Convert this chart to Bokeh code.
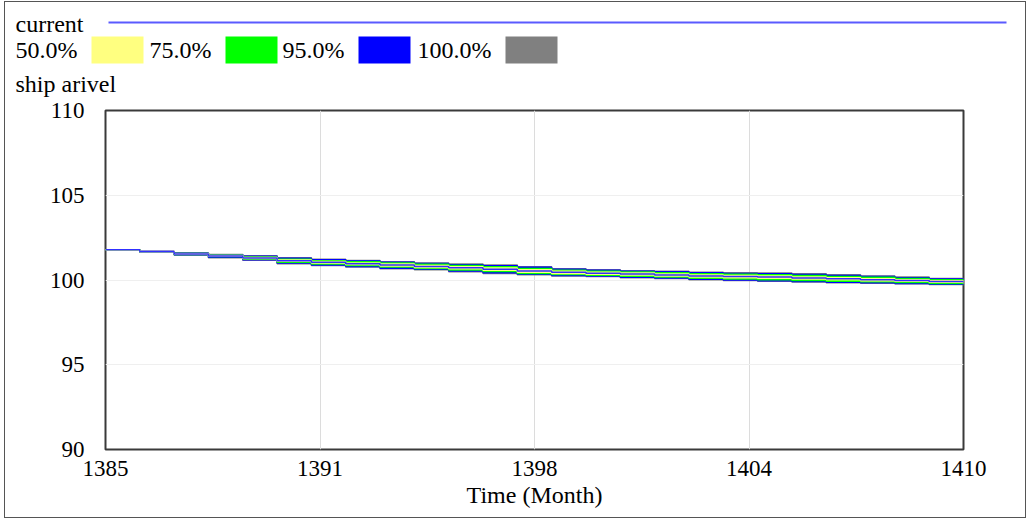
from bokeh.plotting import figure
from bokeh.models import Range1d, FixedTicker, ColumnDataSource
from bokeh.layouts import column
from bokeh.core.properties import value
from bokeh.embed import file_html
from bokeh.resources import INLINE

# ---------------- data ----------------
time = [1385, 1386, 1387, 1388, 1389, 1390, 1391, 1392, 1393, 1394, 1395, 1396, 1397,
        1398, 1399, 1400, 1401, 1402, 1403, 1404, 1405, 1406, 1407, 1408, 1409, 1410]

current = [101.78, 101.66, 101.54, 101.42, 101.30, 101.14, 101.04, 100.96, 100.88, 100.80,
           100.72, 100.64, 100.53, 100.45, 100.40, 100.35, 100.30, 100.24, 100.20, 100.17,
           100.12, 100.07, 100.02, 99.97, 99.91, 99.85]

upper100 = [101.78, 101.69, 101.59, 101.51, 101.43, 101.31, 101.22, 101.15, 101.08, 101.01,
            100.94, 100.88, 100.78, 100.67, 100.61, 100.55, 100.51, 100.46, 100.43, 100.41,
            100.37, 100.31, 100.24, 100.17, 100.09, 100.01]
lower100 = [101.78, 101.63, 101.48, 101.32, 101.16, 100.96, 100.85, 100.76, 100.67, 100.60,
            100.49, 100.39, 100.31, 100.24, 100.20, 100.13, 100.09, 100.02, 99.97, 99.92,
            99.88, 99.84, 99.81, 99.78, 99.73, 99.68]
upper95 = [101.78, 101.68, 101.58, 101.49, 101.40, 101.28, 101.19, 101.12, 101.05, 100.98,
           100.90, 100.84, 100.75, 100.64, 100.58, 100.52, 100.48, 100.43, 100.39, 100.37,
           100.33, 100.27, 100.21, 100.14, 100.06, 99.99]
lower95 = [101.78, 101.64, 101.49, 101.34, 101.19, 101.00, 100.88, 100.79, 100.70, 100.63,
           100.53, 100.43, 100.34, 100.27, 100.23, 100.16, 100.12, 100.05, 100.00, 99.95,
           99.91, 99.87, 99.84, 99.80, 99.75, 99.71]
upper75 = [101.78, 101.67, 101.56, 101.46, 101.36, 101.23, 101.14, 101.07, 101.00, 100.93,
           100.85, 100.78, 100.68, 100.58, 100.52, 100.47, 100.43, 100.37, 100.34, 100.31,
           100.27, 100.21, 100.16, 100.09, 100.02, 99.95]
lower75 = [101.78, 101.65, 101.51, 101.38, 101.24, 101.05, 100.94, 100.85, 100.76, 100.68,
           100.59, 100.50, 100.39, 100.32, 100.28, 100.22, 100.17, 100.10, 100.06, 100.02,
           99.97, 99.93, 99.89, 99.85, 99.80, 99.75]
upper50 = [101.78, 101.66, 101.55, 101.44, 101.33, 101.18, 101.09, 101.01, 100.94, 100.86,
           100.78, 100.71, 100.60, 100.51, 100.46, 100.41, 100.36, 100.30, 100.26, 100.23,
           100.18, 100.13, 100.08, 100.02, 99.96, 99.90]
lower50 = [101.78, 101.66, 101.53, 101.40, 101.27, 101.10, 101.00, 100.91, 100.82, 100.74,
           100.66, 100.58, 100.46, 100.39, 100.34, 100.29, 100.24, 100.18, 100.14, 100.11,
           100.06, 100.01, 99.96, 99.92, 99.86, 99.80]

band_labels = ["50.0%", "75.0%", "95.0%", "100.0%"]
band_colors = ["#ffff80", "#00ff00", "#0000ff", "#808080"]

x_ticks = [1385, 1391.25, 1397.5, 1403.75, 1410]
x_tick_labels = ["1385", "1391", "1398", "1404", "1410"]
y_ticks = [90, 95, 100, 105, 110]

variable_name = "ship arivel"
run_name = "current"
x_title = "Time (Month)"

FONT = "Liberation Serif"

# ---------------- header (legend) ----------------
W = 1020
HH = 95
header = figure(width=W, height=HH, x_range=Range1d(5, 5 + W), y_range=Range1d(2 + HH, 2),
                x_axis_type=None, y_axis_type=None, toolbar_location=None,
                output_backend="svg", min_border=0, outline_line_color=None)
header.grid.visible = False
header.frame_align = False

TXT = dict(text_font=value(FONT), text_font_size="24px", text_baseline="alphabetic",
           text_color="black")
header.text(x=[15], y=[23], text=[run_name], **TXT)
header.segment(x0=[108], y0=[22], x1=[1006], y1=[22], line_color="#5a5aff", line_width=2)

text_x = [15, 149, 282, 417]
sw_left = [91, 225, 358, 505]
header.text(x=text_x, y=[49] * 4, text=band_labels, **TXT)
header.quad(left=sw_left, right=[l + 52 for l in sw_left], top=[36] * 4, bottom=[63] * 4,
            fill_color=band_colors, line_color=None)
header.text(x=[15], y=[83], text=[variable_name], **TXT)

# ---------------- main plot ----------------
p = figure(width=W, height=420, x_range=Range1d(1385, 1410), y_range=Range1d(90, 110),
           toolbar_location=None, output_backend="svg",
           min_border_left=100, min_border_right=62, min_border_top=13, min_border_bottom=68)
p.frame_align = False
p.outline_line_color = "#3a3a3a"
p.outline_line_width = 2

src = ColumnDataSource(dict(t=time, cur=current, u100=upper100, l100=lower100,
                            u95=upper95, l95=lower95, u75=upper75, l75=lower75,
                            u50=upper50, l50=lower50))

bands = [("u100", "l100", band_colors[3]), ("u95", "l95", band_colors[2]),
         ("u75", "l75", band_colors[1]), ("u50", "l50", band_colors[0])]
for u, l, c in bands:
    p.varea_step(x="t", y1=l, y2=u, source=src, fill_color=c, step_mode="after")
for u, l, c in bands:
    p.step(x="t", y=u, source=src, line_color=c, line_width=1.5, mode="after")
    p.step(x="t", y=l, source=src, line_color=c, line_width=1.5, mode="after")
p.step(x="t", y="cur", source=src, line_color="#3030ff", line_width=1.5, mode="after")

p.xaxis.ticker = FixedTicker(ticks=x_ticks)
p.xaxis.major_label_overrides = {t: s for t, s in zip(x_ticks, x_tick_labels)}
p.yaxis.ticker = FixedTicker(ticks=y_ticks)
p.xaxis.axis_label = x_title

for ax in (p.xaxis[0], p.yaxis[0]):
    ax.axis_line_color = None
    ax.major_tick_line_color = None
    ax.minor_tick_line_color = None
    ax.major_tick_out = 0
    ax.major_tick_in = 0
    ax.minor_tick_out = 0
    ax.major_label_text_font = FONT
    ax.major_label_text_font_size = "23px"
    ax.major_label_text_color = "black"
p.xaxis.major_label_standoff = 11
p.yaxis.major_label_standoff = 21
p.xaxis.axis_label_text_font = FONT
p.xaxis.axis_label_text_font_size = "24px"
p.xaxis.axis_label_text_font_style = "normal"
p.xaxis.axis_label_text_color = "black"
p.xaxis.axis_label_standoff = 3

p.xgrid.grid_line_color = "#dcdcdc"
p.ygrid.grid_line_color = "#efefef"

layout = column(header, p, spacing=0, margin=(1, 0, 0, 4),
                styles={"border": "1px solid #555"})

open("out.html", "w").write(file_html(layout, INLINE))
